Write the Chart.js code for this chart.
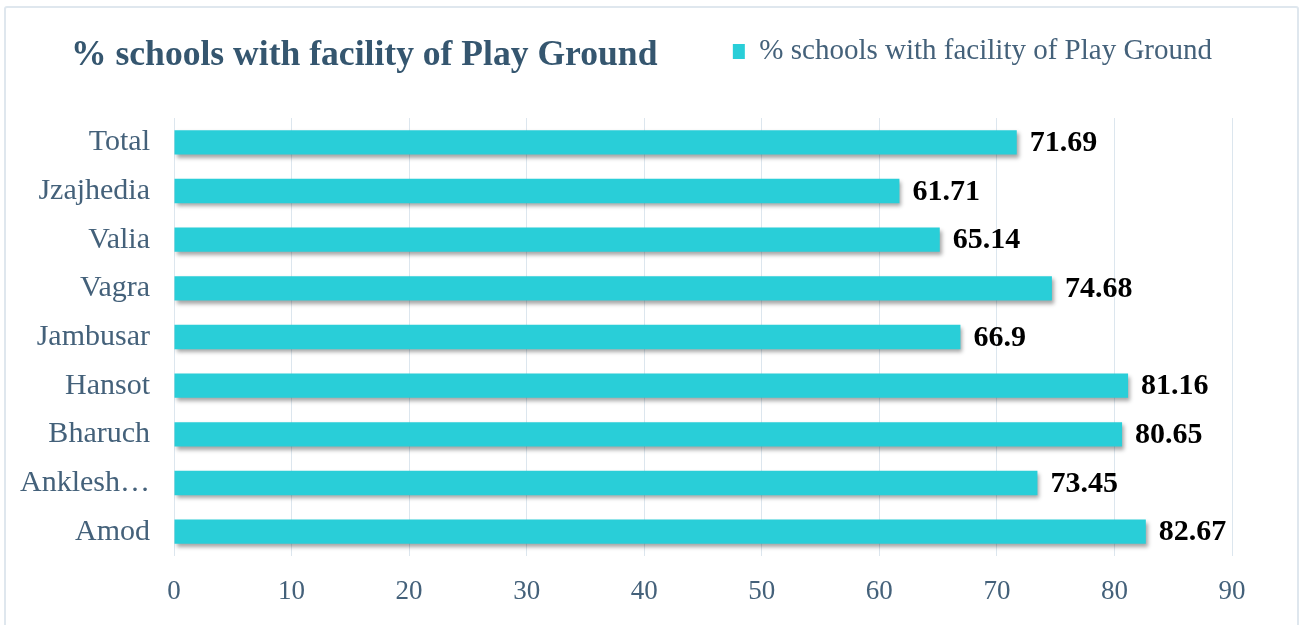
<!DOCTYPE html>
<html>
<head>
<meta charset="utf-8">
<script src="https://cdn.jsdelivr.net/npm/chart.js@4"></script>
<style>
  body { margin: 0; background: #fff; }
  #wrap { position: relative; width: 1299px; height: 625px; overflow: hidden; }
  #frame { position: absolute; left: 4px; top: 6px; width: 1291px; height: 640px;
           border: 2px solid #dfe7ee; border-radius: 3px; }
  #title { position: absolute; left: 71px; top: 36px; margin: 0;
           font: bold 35.6px/35px "Liberation Serif", "Times New Roman", serif; color: #35566f;
           white-space: nowrap; }
  canvas { position: absolute; left: 0; top: 0; }
</style>
</head>
<body>
<div id="wrap">
  <div id="frame"></div>
  <canvas id="chart" width="1299" height="625"></canvas>
  <h1 id="title">% schools with facility of Play Ground</h1>
</div>
<script>
// categories, top to bottom as shown
const blocks = ["Total", "Jzajhedia", "Valia", "Vagra", "Jambusar", "Hansot", "Bharuch", "Anklesh…", "Amod"];
const playGroundPct = [71.69, 61.71, 65.14, 74.68, 66.9, 81.16, 80.65, 73.45, 82.67];
const xTicks = [0, 10, 20, 30, 40, 50, 60, 70, 80, 90];
const seriesName = "% schools with facility of Play Ground";

const textColor = "#44617a";
const barColor = "#29ced8";

// make room under the legend row
const legendGap = {
  id: "legendGap",
  beforeInit(chart) {
    const originalFit = chart.legend.fit;
    chart.legend.fit = function fit() {
      originalFit.bind(chart.legend)();
      this.height += 42;
    };
  },
};

// soft shadow under the bars
const barShadow = {
  id: "barShadow",
  beforeDatasetsDraw(chart) {
    const ctx = chart.ctx;
    ctx.save();
    ctx.shadowColor = "rgba(0, 0, 0, 0.35)";
    ctx.shadowBlur = 4;
    ctx.shadowOffsetX = 2;
    ctx.shadowOffsetY = 3;
  },
  afterDatasetsDraw(chart) {
    chart.ctx.restore();
  },
};

// value labels at the end of each bar
const valueLabels = {
  id: "valueLabels",
  afterDraw(chart) {
    const ctx = chart.ctx;
    const meta = chart.getDatasetMeta(0);
    const data = chart.data.datasets[0].data;
    ctx.save();
    ctx.font = "bold 30px 'Liberation Serif', 'Times New Roman', serif";
    ctx.fillStyle = "#000";
    ctx.textAlign = "left";
    ctx.textBaseline = "middle";
    meta.data.forEach((bar, i) => {
      ctx.fillText(String(data[i]), bar.x + 13, bar.y + 1);
    });
    ctx.restore();
  },
};

const ctx = document.getElementById("chart");
new Chart(ctx, {
  type: "bar",
  data: {
    labels: blocks,
    datasets: [
      {
        label: seriesName,
        data: playGroundPct,
        backgroundColor: barColor,
        barPercentage: 0.5,
        categoryPercentage: 1,
      },
    ],
  },
  options: {
    indexAxis: "y",
    responsive: false,
    animation: false,
    layout: {
      padding: { left: 10, right: 67, top: 17, bottom: 9 },
    },
    plugins: {
      title: { display: false },
      tooltip: { enabled: false },
      legend: {
        position: "top",
        align: "end",
        labels: {
          color: textColor,
          font: { family: "'Liberation Serif', 'Times New Roman', serif", size: 29 },
          boxWidth: 12,
          boxHeight: 15,
          padding: 20,
        },
      },
    },
    scales: {
      x: {
        min: 0,
        max: 90,
        afterBuildTicks: (scale) => {
          scale.ticks = xTicks.map((v) => ({ value: v }));
        },
        afterFit: (scale) => {
          scale.height = 60;
        },
        grid: { color: "#dce6ee", lineWidth: 1, drawTicks: false },
        border: { display: false },
        ticks: {
          color: textColor,
          padding: 20,
          font: { family: "'Liberation Serif', 'Times New Roman', serif", size: 27 },
        },
      },
      y: {
        afterFit: (scale) => {
          scale.width = 164;
        },
        grid: { display: false, drawTicks: false },
        border: { display: false },
        ticks: {
          color: textColor,
          padding: 24,
          font: { family: "'Liberation Serif', 'Times New Roman', serif", size: 30 },
        },
      },
    },
  },
  plugins: [legendGap, barShadow, valueLabels],
});
</script>
</body>
</html>
